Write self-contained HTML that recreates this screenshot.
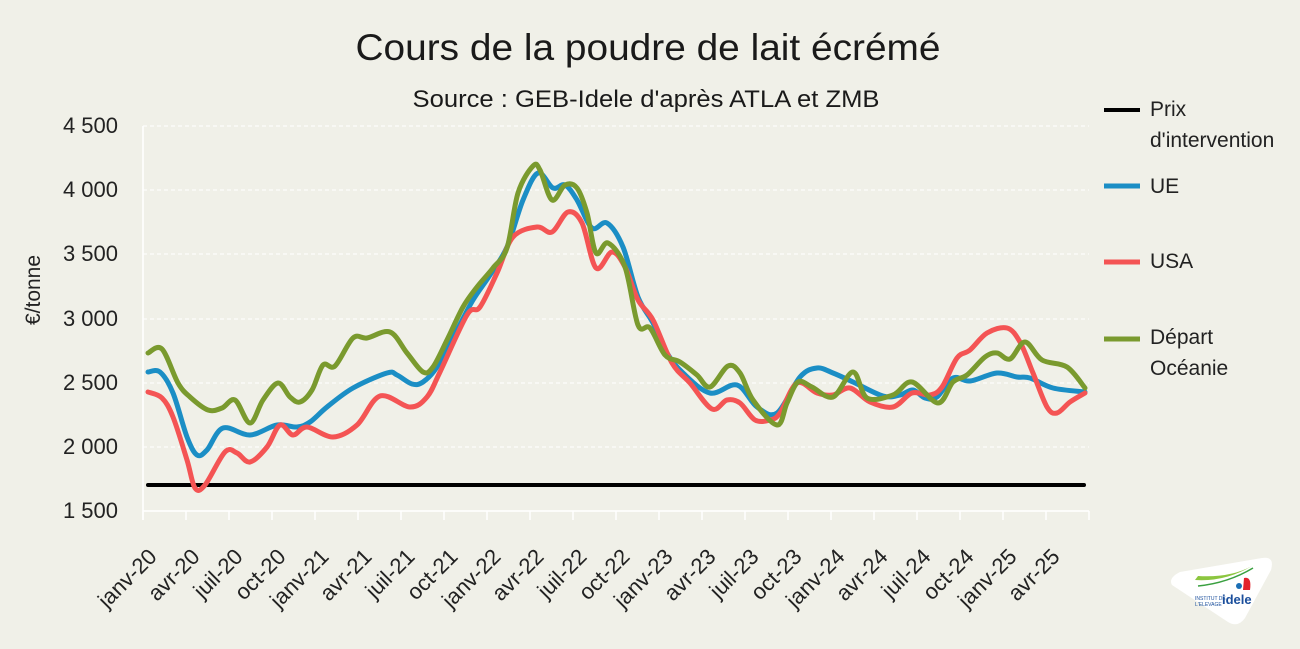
<!DOCTYPE html>
<html><head><meta charset="utf-8"><style>
html,body{margin:0;padding:0;background:#f0f0e8;}
svg{display:block;font-family:"Liberation Sans",sans-serif;}
</style></head><body>
<svg id="s" width="1300" height="649" viewBox="0 0 1300 649">
<rect width="1300" height="649" fill="#f0f0e8"/>
<text x="648" y="60" font-size="37" text-anchor="middle" fill="#1a1a1a" textLength="585" lengthAdjust="spacingAndGlyphs">Cours de la poudre de lait écrémé</text>
<text x="646" y="107" font-size="24" text-anchor="middle" fill="#1a1a1a" textLength="467" lengthAdjust="spacingAndGlyphs">Source : GEB-Idele d'après ATLA et ZMB</text>
<g stroke="#ffffff" stroke-width="1" stroke-dasharray="4,3">
<line x1="143" x2="1089" y1="126" y2="126"/><line x1="143" x2="1089" y1="190" y2="190"/>
<line x1="143" x2="1089" y1="254" y2="254"/><line x1="143" x2="1089" y1="319" y2="319"/>
<line x1="143" x2="1089" y1="383" y2="383"/><line x1="143" x2="1089" y1="447" y2="447"/>
</g>
<g stroke="#ffffff" stroke-width="1.5" id="ax">
<line x1="143" x2="143" y1="126" y2="520"/><line x1="143" x2="1089" y1="511" y2="511"/>
</g>
<g font-size="22" fill="#222" text-anchor="end">
<text x="118" y="133">4 500</text><text x="118" y="197">4 000</text><text x="118" y="261">3 500</text>
<text x="118" y="326">3 000</text><text x="118" y="390">2 500</text><text x="118" y="454">2 000</text>
<text x="118" y="518">1 500</text>
</g>
<text transform="translate(40,290) rotate(-90)" font-size="21" text-anchor="middle" fill="#222">€/tonne</text>
<g id="xl" font-size="22" fill="#222" text-anchor="end"></g>
<line x1="148" x2="1084" y1="485" y2="485" stroke="#000" stroke-width="4" stroke-linecap="round"/>
<path id="pb" fill="none" stroke="#1b8ec5" stroke-width="5" stroke-linecap="round" stroke-linejoin="round"/>
<path id="pr" fill="none" stroke="#f45454" stroke-width="5" stroke-linecap="round" stroke-linejoin="round"/>
<path id="pg" fill="none" stroke="#7a9a2e" stroke-width="5" stroke-linecap="round" stroke-linejoin="round"/>
<g font-size="21" fill="#222">
<line x1="1104" x2="1140" y1="110" y2="110" stroke="#000" stroke-width="4"/>
<text x="1150" y="116">Prix</text><text x="1150" y="147">d'intervention</text>
<line x1="1104" x2="1140" y1="186" y2="186" stroke="#1b8ec5" stroke-width="5"/>
<text x="1150" y="193">UE</text>
<line x1="1104" x2="1140" y1="262" y2="262" stroke="#f45454" stroke-width="5"/>
<text x="1150" y="268">USA</text>
<line x1="1104" x2="1140" y1="339" y2="339" stroke="#7a9a2e" stroke-width="5"/>
<text x="1150" y="344">Départ</text><text x="1150" y="375">Océanie</text>
</g>
<path d="M1172,585 Q1168,578 1180,572 L1262,558 Q1275,556 1271,570 L1245,618 Q1238,628 1228,622 Z" fill="#fff"/>
<path d="M1195,580 Q1225,582 1252,566 Q1230,578 1198,576 Z" fill="#8cc63f"/>
<path d="M1198,586 Q1228,583 1253,568" stroke="#3aa040" stroke-width="1.5" fill="none"/>
<path d="M1244,578 Q1252,576 1250,590 L1243,590 Z" fill="#e3232c"/>
<circle cx="1239" cy="586" r="3" fill="#1b6fb5"/>
<text x="1195" y="600" font-size="5" fill="#1b4f9c">INSTITUT DE</text>
<text x="1195" y="606" font-size="5" fill="#1b4f9c">L'ELEVAGE</text>
<text x="1222" y="604" font-size="13" font-weight="bold" fill="#1b4f9c">idele</text>
</svg>
<script>
var ns="http://www.w3.org/2000/svg";
var ax=document.getElementById('ax'),xl=document.getElementById('xl');
var labs=["janv-20","avr-20","juil-20","oct-20","janv-21","avr-21","juil-21","oct-21","janv-22","avr-22","juil-22","oct-22","janv-23","avr-23","juil-23","oct-23","janv-24","avr-24","juil-24","oct-24","janv-25","avr-25"];
for(var i=0;i<=22;i++){var x=143+i*43;var l=document.createElementNS(ns,'line');l.setAttribute('x1',x);l.setAttribute('x2',x);l.setAttribute('y1',511);l.setAttribute('y2',520);ax.appendChild(l);
if(i<22){var t=document.createElementNS(ns,'text');t.setAttribute('transform','translate('+(x+15)+',558) rotate(-45)');t.textContent=labs[i];xl.appendChild(t);}}
function cr(p){var d="M"+p[0][0]+","+p[0][1];for(var i=0;i<p.length-1;i++){var p0=p[i-1]||p[i],p1=p[i],p2=p[i+1],p3=p[i+2]||p2;
d+=" C"+(p1[0]+(p2[0]-p0[0])/6)+","+(p1[1]+(p2[1]-p0[1])/6)+" "+(p2[0]-(p3[0]-p1[0])/6)+","+(p2[1]-(p3[1]-p1[1])/6)+" "+p2[0]+","+p2[1];}return d;}
var G=[[148,353],[162,349],[178,383],[190,397],[208,410],[222,408],[235,400],[250,423],[263,400],[278,383],[290,397],[300,402],[312,390],[323,365],[335,366],[353,338],[367,338],[390,332],[407,353],[423,372],[433,367],[447,340],[463,307],[477,287],[493,268],[507,248],[518,193],[533,166],[540,170],[552,200],[565,185],[577,188],[587,213],[596,253],[608,243],[625,267],[638,325],[650,328],[665,355],[680,362],[697,375],[710,387],[728,366],[740,373],[753,400],[777,425],[787,403],[798,382],[812,387],[833,397],[853,372],[867,398],[893,395],[912,382],[938,403],[953,382],[967,375],[985,357],[997,353],[1010,359],[1025,342],[1042,360],[1067,367],[1085,388]];
var B=[[148,372],[160,372],[173,393],[187,437],[197,455],[207,450],[223,428],[250,435],[277,425],[297,427],[310,422],[327,407],[353,388],[387,373],[397,375],[412,384],[423,382],[437,367],[457,330],[473,300],[490,275],[507,247],[523,200],[538,173],[553,188],[565,185],[577,200],[592,228],[607,223],[623,247],[638,297],[653,323],[667,353],[683,373],[710,393],[737,385],[757,407],[777,413],[800,377],[817,368],[833,373],[853,382],[883,396],[900,395],[913,390],[925,398],[937,397],[953,378],[970,381],[997,373],[1017,377],[1030,378],[1053,388],[1085,392]];
var R=[[148,392],[162,398],[173,417],[187,460],[195,488],[205,485],[225,452],[237,453],[250,462],[267,447],[280,425],[293,435],[307,427],[333,437],[357,425],[380,396],[410,407],[427,397],[440,372],[467,315],[480,307],[497,273],[513,237],[537,227],[552,232],[568,212],[582,223],[596,268],[612,252],[625,267],[638,300],[653,320],[672,363],[690,383],[712,409],[727,400],[740,403],[755,420],[770,420],[780,413],[797,383],[817,393],[833,395],[850,388],[870,402],[893,407],[912,393],[930,395],[942,387],[957,358],[970,350],[987,333],[1007,328],[1020,342],[1033,373],[1047,407],[1057,413],[1070,402],[1085,393]];
document.getElementById('pg').setAttribute('d',cr(G));
document.getElementById('pb').setAttribute('d',cr(B));
document.getElementById('pr').setAttribute('d',cr(R));
</script>
</body></html>
